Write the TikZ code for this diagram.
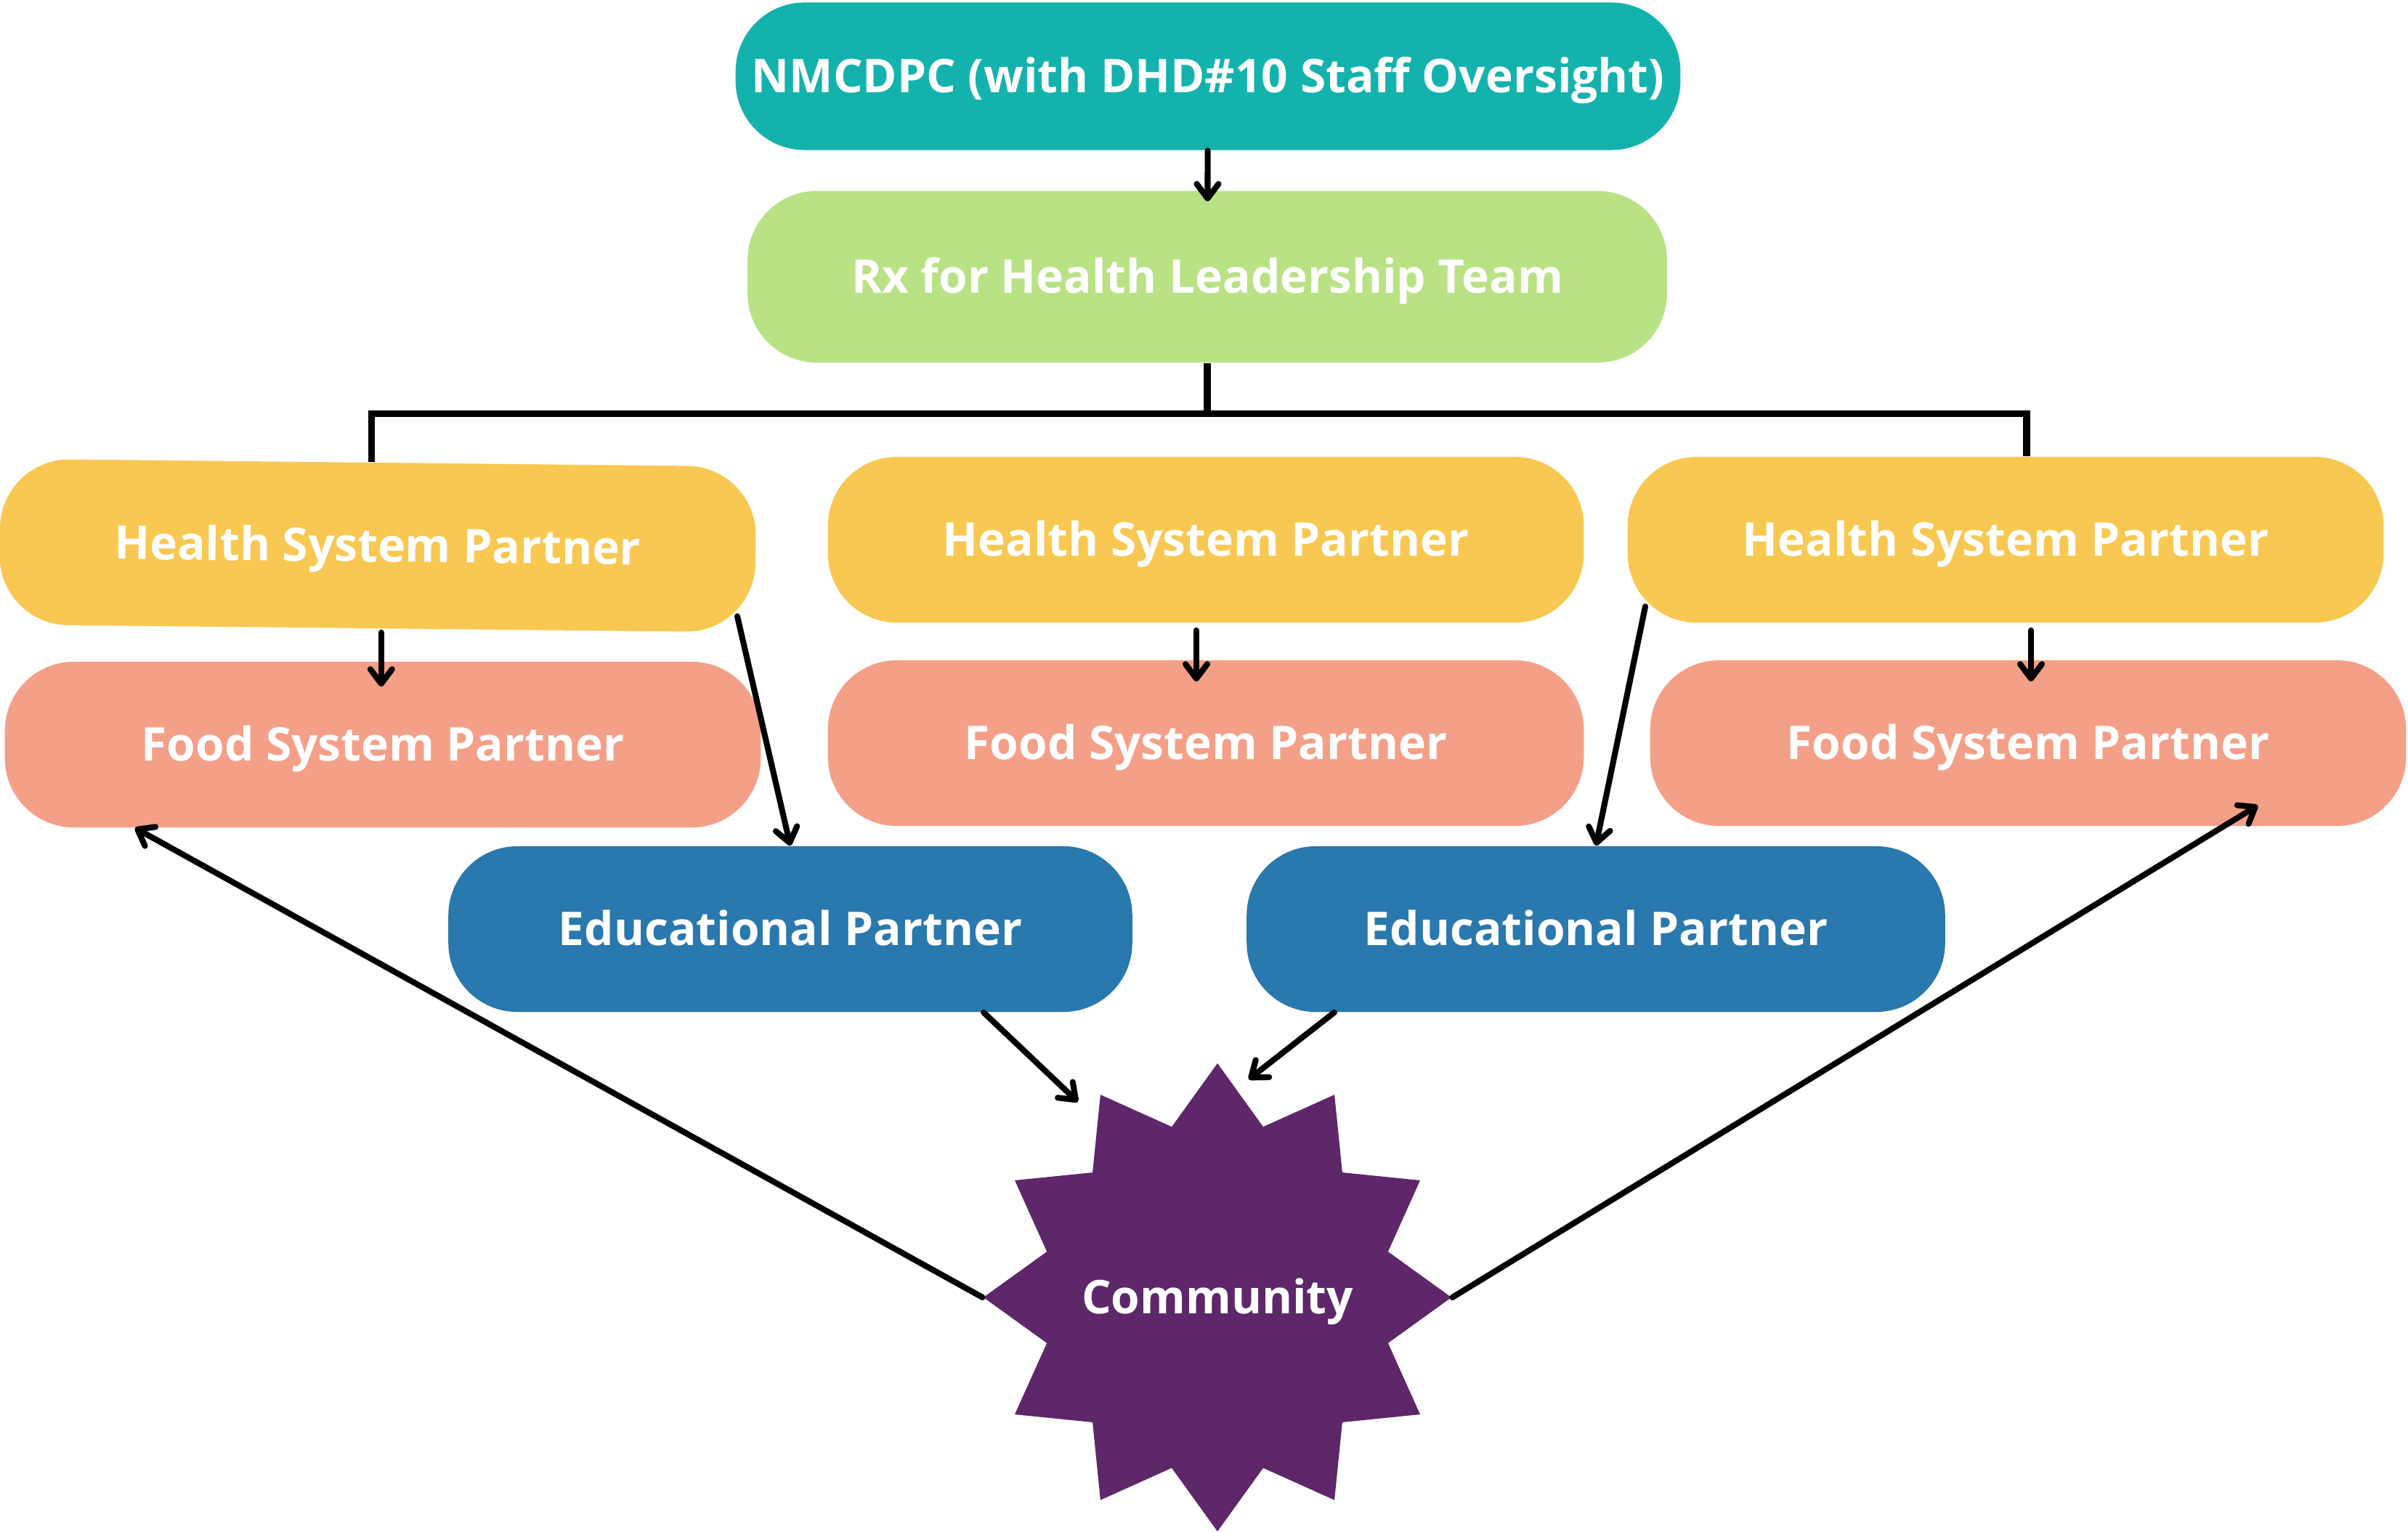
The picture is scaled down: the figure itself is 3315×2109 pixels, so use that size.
\documentclass[tikz,border=0pt]{standalone}
\usepackage{fontspec}
\setmainfont{Open Sans}
\usetikzlibrary{shapes.geometric,arrows.meta}

\definecolor{nmteal}{RGB}{20,178,173}
\definecolor{rxgreen}{RGB}{184,226,132}
\definecolor{hspyellow}{RGB}{249,200,82}
\definecolor{fspsalmon}{RGB}{244,160,136}
\definecolor{edublue}{RGB}{41,120,174}
\definecolor{commpurple}{RGB}{94,39,106}

\tikzset{
    box/.style={rounded corners=0.95cm, text=white, inner sep=0pt,
        font=\bfseries\fontsize{18.2}{21}\selectfont,
        text height=0.5cm, text depth=0.05cm,
        minimum width=10.4cm, minimum height=2.28cm},
    link/.style={line width=2.3pt, line cap=round,
        -{Straight Barb[length=0.2cm,width=0.3cm,round]}},
    fork/.style={line width=2.6pt},
}

\begin{document}
\begin{tikzpicture}[x=0.01cm,y=-0.01cm]
            \useasboundingbox (0,0) rectangle (3315,2109);

            \node (nmcdpc) [box, fill=nmteal, minimum width=13cm, minimum height=2.03cm] at (1663,105) {NMCDPC (with DHD\#10 Staff Oversight)};
            \node (rx) [box, fill=rxgreen, minimum width=12.65cm, minimum height=2.36cm] at (1662,381) {Rx for Health Leadership Team};

            \node (hsp1) [box, fill=hspyellow, rotate=-0.6] at (520,751) {Health System Partner};
            \node (hsp2) [box, fill=hspyellow] at (1660,743) {Health System Partner};
            \node (hsp3) [box, fill=hspyellow] at (2761,743) {Health System Partner};

            \node (fsp1) [box, fill=fspsalmon] at (527,1025) {Food System Partner};
            \node (fsp2) [box, fill=fspsalmon] at (1660,1023) {Food System Partner};
            \node (fsp3) [box, fill=fspsalmon] at (2792,1023) {Food System Partner};

            \node (edu1) [box, fill=edublue, minimum width=9.41cm] at (1088,1279) {Educational Partner};
            \node (edu2) [box, fill=edublue, minimum width=9.61cm] at (2197,1279) {Educational Partner};

            % zero-width label so the star keeps its own size
            \node (comm) [star, star points=12, star point height=0.79cm, minimum size=6.44cm,
                fill=commpurple, text=white, inner sep=0pt,
                text height=0.5cm, text depth=0.05cm,
                font=\bfseries\fontsize{18.2}{21}\selectfont] at (1676,1786) {\makebox[0pt]{Community}};

            % leadership and the fork down to the health partners
            \draw[link, shorten >=-0.15cm] (nmcdpc) -- (rx);
            \draw[fork] ([xshift=-0.1cm]hsp1.north) |- ([yshift=-0.7cm]rx.south) -| ([xshift=0.29cm]hsp3.north);
            \draw[fork] (rx.south) -- ([yshift=-0.7cm]rx.south);

            % health -> food
            \draw[link, shorten <=0.05cm, shorten >=-0.35cm] ([xshift=0.06cm]hsp1.south) -- ([xshift=0.06cm]hsp1.south |- fsp1.north);
            \draw[link, shorten <=0.1cm, shorten >=-0.3cm] ([xshift=-0.13cm]hsp2.south) -- ([xshift=-0.13cm]hsp2.south |- fsp2.north);
            \draw[link, shorten <=0.1cm, shorten >=-0.3cm] ([xshift=0.35cm]hsp3.south) -- ([xshift=0.35cm]hsp3.south |- fsp3.north);

            % health -> education
            \draw[link] ([xshift=-0.25cm]hsp1.-10) -- (edu1.north);
            \draw[link] ([xshift=0.25cm]hsp3.190) -- (edu2.north);

            % education -> community
            \draw[link] ([xshift=2.66cm]edu1.south) -- ([shift={(-1.92cm,2.69cm)}]comm.center);
            \draw[link] ([xshift=-3.6cm]edu2.south) -- ([shift={(0.43cm,3.0cm)}]comm.center);

            % community -> food
            \draw[link] (comm.west) -- ([xshift=-3.41cm]fsp1.south);
            \draw[link] (comm.east) -- ([shift={(3.16cm,0.29cm)}]fsp3.south);
\end{tikzpicture}
\end{document}
